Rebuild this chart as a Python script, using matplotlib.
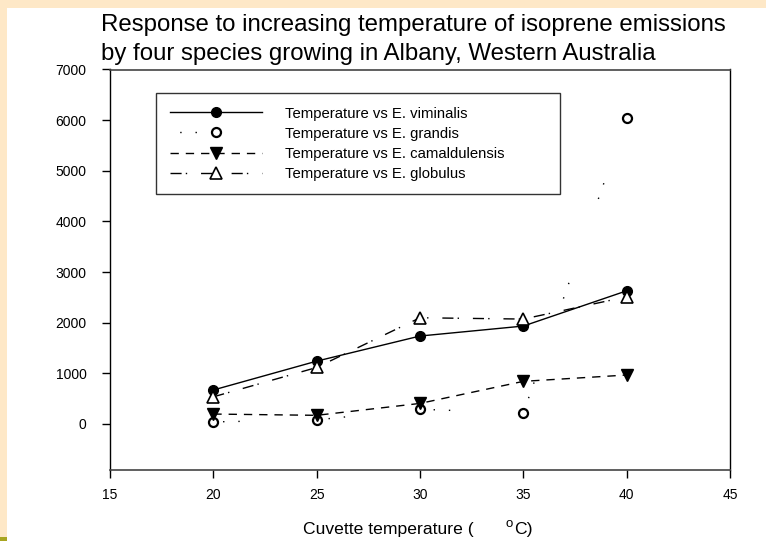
import matplotlib.pyplot as plt
from matplotlib.patches import Rectangle

plt.rcParams['font.family'] = ['Liberation Sans', 'DejaVu Sans']

# cuvette temperature (deg C) and isoprene emission rates per species
temps = [20, 25, 30, 35, 40]
viminalis = [670, 1240, 1736, 1933, 2629]
grandis = [40, 80, 290, 215, 6041]
camaldulensis = [195, 170, 405, 841, 966]
globulus = [535, 1115, 2097, 2071, 2511]

labels = ['Temperature vs E. viminalis', 'Temperature vs E. grandis',
          'Temperature vs E. camaldulensis', 'Temperature vs E. globulus']

xticks = [15, 20, 25, 30, 35, 40, 45]
yticks = [0, 1000, 2000, 3000, 4000, 5000, 6000, 7000]

W, H = 766, 541
fig = plt.figure(figsize=(W / 100, H / 100), dpi=100)
fig.patch.set_facecolor('white')

# beige frame strips and the small green corner
fig.patches.append(Rectangle((0, 0), 7 / W, 1, transform=fig.transFigure,
                             facecolor='#FEE8C7', edgecolor='none', zorder=0))
fig.patches.append(Rectangle((0, 1 - 8 / H), 1, 8 / H, transform=fig.transFigure,
                             facecolor='#FEE8C7', edgecolor='none', zorder=0))
fig.patches.append(Rectangle((0, 0), 7 / W, 4 / H, transform=fig.transFigure,
                             facecolor='#A8A520', edgecolor='none', zorder=1))

ax = fig.add_axes([110 / W, 1 - 469.5 / H, 620 / W, 400 / H])

ax.plot(temps, viminalis, color='black', lw=1.0, ls='-', marker='o',
        ms=7, mfc='black', mec='black', label=labels[0])
ax.plot(temps, grandis, color='black', lw=1.0, ls=(69, (1, 10, 1, 64)), marker='o',
        ms=6.5, mfc='white', mec='black', mew=1.6, label=labels[1])
ax.plot(temps, camaldulensis, color='black', lw=1.0, ls=(0, (6, 5)), marker='v',
        ms=8, mfc='black', mec='black', label=labels[2])
ax.plot(temps, globulus, color='black', lw=1.0, ls=(0, (8, 3, 1, 10)), marker='^',
        ms=8, mfc='white', mec='black', mew=1.2, label=labels[3])

ax.set_xlim(15, 45)
ax.set_ylim(-900, 7000)
ax.set_xticks(xticks)
ax.set_yticks(yticks)
ax.tick_params(axis='both', direction='out', length=6, width=1, labelsize=10,
               top=False, right=False)
ax.tick_params(axis='x', pad=7)
ax.tick_params(axis='y', pad=11)
for side in ['left', 'right']:
    ax.spines[side].set_color('black')
    ax.spines[side].set_linewidth(1.0)
for side in ['top', 'bottom']:
    ax.spines[side].set_color('#444444')
    ax.spines[side].set_linewidth(1.2)

leg = ax.legend(loc='upper left',
                bbox_to_anchor=(156 / W, 1 - 194 / H, 404 / W, 101 / H),
                bbox_transform=fig.transFigure, mode='expand',
                fontsize=10.7, frameon=True, fancybox=False, edgecolor='black',
                handlelength=6.2, handletextpad=1.55, labelspacing=0.41,
                borderpad=0.91, borderaxespad=0)
leg.get_frame().set_linewidth(1.0)

# two-line title, left aligned
fig.text(101 / W, 1 - 31.5 / H, 'Response to increasing temperature of isoprene emissions',
         fontsize=17.3, ha='left', va='baseline')
fig.text(101 / W, 1 - 60 / H, 'by four species growing in Albany, Western Australia',
         fontsize=17.3, ha='left', va='baseline')

# x label with the raised degree sign
fig.text(303 / W, 1 - 534 / H, 'Cuvette temperature (', fontsize=12.6,
         ha='left', va='baseline')
fig.text(505 / W, 1 - 527 / H, 'o', fontsize=9.5, ha='left', va='baseline')
fig.text(514 / W, 1 - 534 / H, 'C)', fontsize=12.6, ha='left', va='baseline')

fig.savefig('out.png', dpi=100)
